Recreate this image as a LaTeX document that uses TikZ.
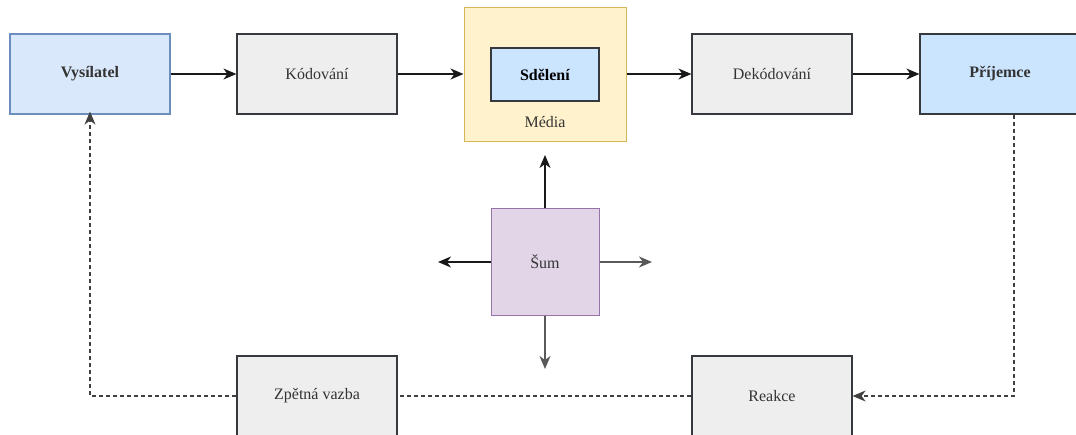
\documentclass[tikz,border=0pt]{standalone}
\usepackage{fontspec}
\setmainfont{Liberation Serif}
\usetikzlibrary{arrows.meta}
\definecolor{sendfill}{HTML}{DAE8FC}
\definecolor{senddraw}{HTML}{6C8EBF}
\definecolor{recvfill}{HTML}{CCE5FF}
\definecolor{boxdraw}{HTML}{36393D}
\definecolor{greyfill}{HTML}{EEEEEE}
\definecolor{mediafill}{HTML}{FFF2CC}
\definecolor{mediadraw}{HTML}{D6B656}
\definecolor{noisefill}{HTML}{E1D5E7}
\definecolor{noisedraw}{HTML}{9673A6}
\begin{document}
\begin{tikzpicture}[x=1pt, y=-1pt,
    font=\fontsize{16}{19}\selectfont,
    box/.style={draw=boxdraw, line width=1.2pt, fill=greyfill, minimum width=160pt, minimum height=80pt, inner sep=0pt, text=black!80},
    flow/.style={-{Stealth[length=13pt,width=11pt,inset=4pt]}, line width=1.3pt, black!90},
    back/.style={flow, black!75, dash pattern=on 4pt off 3pt}]
  \useasboundingbox (0,0) rectangle (1076,434);
  % top row
  \node[box, draw=senddraw, fill=sendfill] (vysilatel) at (90,74) {\textbf{Vysílatel}};
  \node[box] (kodovani) at (317,74) {Kódování};
  \node[draw=mediadraw, fill=mediafill, line width=1pt, minimum width=162pt, minimum height=134pt] (media) at (545,74) {};
  \node[draw=boxdraw, fill=recvfill, line width=1.2pt, minimum width=108pt, minimum height=53pt] (sdeleni) at (545,74.5) {\textbf{Sdělení}};
  \node[text=black!80] (medialabel) at (545,122) {Média};
  \node[box] (dekodovani) at (772,74) {Dekódování};
  \node[box, fill=recvfill] (prijemce) at (1000,74) {\textbf{Příjemce}};
  % noise
  \node[draw=noisedraw, fill=noisefill, line width=1pt, minimum width=108pt, minimum height=107pt, text=black!80] (sum) at (545,262) {Šum};
  \coordinate (sumup) at (545,155);
  \coordinate (sumleft) at (438,262);
  \coordinate (sumright) at (652,262);
  \coordinate (sumdown) at (545,369);
  % bottom row
  \node[box] (zpetna) at (317,396) {Zpětná vazba};
  \node[box] (reakce) at (772,396) {Reakce};
  % connectors
  \draw[flow] (vysilatel) -- (kodovani);
  \draw[flow] (kodovani) -- (media);
  \draw[flow] (media) -- (dekodovani);
  \draw[flow] (dekodovani) -- (prijemce);
  \draw[flow] (sum) -- (sumup);
  \draw[flow] (sum) -- (sumleft);
  \draw[flow, black!65, line width=1.8pt] (sum) -- (sumright);
  \draw[flow, black!65, line width=1.8pt] (sum) -- (sumdown);
  \draw[back] ([xshift=14pt]prijemce.south) |- (reakce.east);
  \draw[back, -] (reakce) -- (zpetna);
  \draw[back] (zpetna.west) -| ([yshift=3pt]vysilatel.south);
\end{tikzpicture}
\end{document}
